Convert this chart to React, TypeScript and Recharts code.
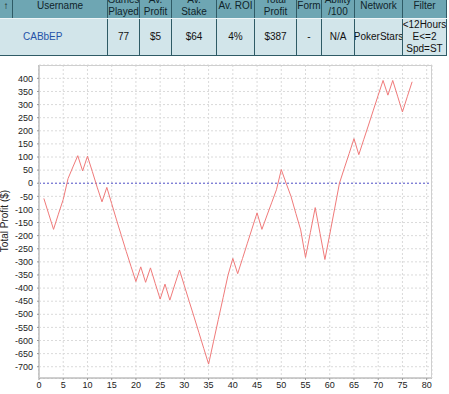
import { LineChart, Line, XAxis, YAxis, CartesianGrid, ReferenceLine } from 'recharts';

const GAMES = [
  1, 2, 3, 4, 5, 6, 7, 8, 9, 10, 11, 12, 13, 14, 15, 16, 17, 18, 19, 20,
  21, 22, 23, 24, 25, 26, 27, 28, 29, 30, 31, 32, 33, 34, 35, 36, 37, 38, 39, 40,
  41, 42, 43, 44, 45, 46, 47, 48, 49, 50, 51, 52, 53, 54, 55, 56, 57, 58, 59, 60,
  61, 62, 63, 64, 65, 66, 67, 68, 69, 70, 71, 72, 73, 74, 75, 76, 77,
];

const PROFIT = [
  -58, -117, -176, -118, -62, 18, 62, 105, 47, 103,
  45, -15, -71, -16, -78, -140, -200, -260, -318, -375,
  -319, -378, -323, -383, -442, -385, -446, -388, -331, -391,
  -451, -510, -570, -630, -690, -605, -520, -436, -351, -287,
  -345, -287, -229, -171, -113, -176, -125, -75, -25, 52,
  0, -50, -115, -178, -283, -188, -93, -192, -291, -195,
  -98, 0, 57, 113, 170, 109, 166, 222, 279, 336,
  392, 336, 392, 332, 272, 330, 387,
];

const X_TICKS = [0, 5, 10, 15, 20, 25, 30, 35, 40, 45, 50, 55, 60, 65, 70, 75, 80];
const Y_TICKS = [
  400, 350, 300, 250, 200, 150, 100, 50, 0, -50, -100, -150, -200, -250, -300, -350,
  -400, -450, -500, -550, -600, -650, -700,
];

const HEADERS = ['↑', 'Username', 'Games\nPlayed', 'Av.\nProfit', 'Av.\nStake', 'Av. ROI', 'Total\nProfit', 'Form', 'Ability\n/100', 'Network', 'Filter'];
const ROW = ['', 'CABbEP', '77', '$5', '$64', '4%', '$387', '-', 'N/A', 'PokerStars', '<12Hours\nE<=2\nSpd=ST'];
const COL_EDGES = [0, 13, 108, 140, 172, 217, 255, 297, 322, 355, 403, 447];

const data = GAMES.map((g, i) => ({ game: g, profit: PROFIT[i] }));

const font = '"Liberation Sans", Arial, sans-serif';

const Cell = ({ left, width, top, height, bg, text, color, align, border }: any) => (
  <div
    style={{
      position: 'absolute',
      left,
      top,
      width,
      height,
      background: bg,
      borderRight: border ? '1px solid #2f5b66' : 'none',
      boxSizing: 'border-box',
      display: 'flex',
      alignItems: 'center',
      justifyContent: align,
      textAlign: 'center',
      whiteSpace: 'pre',
      fontFamily: font,
      fontSize: 10,
      lineHeight: '12px',
      color,
      overflow: 'hidden',
      paddingLeft: align === 'flex-start' ? 10 : 0,
    }}
  >
    {text}
  </div>
);

export default function App() {
  return (
    <div style={{ position: 'absolute', left: 0, top: 0, width: 449, height: 394, background: '#fff', overflow: 'hidden' }}>
      <div style={{ position: 'absolute', left: 0, top: 0 }}>
        <LineChart width={449} height={394} data={data} margin={{ top: 65, right: 17, bottom: 0, left: 0 }}>
          <CartesianGrid stroke="#dadada" strokeDasharray="2 2" />
          <XAxis
            dataKey="game"
            type="number"
            domain={[0, 81.1]}
            ticks={X_TICKS}
            interval={0}
            allowDataOverflow
            height={16}
            tickSize={2}
            tickMargin={2}
            stroke="#999"
            tick={{ fontSize: 9, fill: '#222', fontFamily: font }}
          />
          <YAxis
            type="number"
            domain={[-743, 451]}
            ticks={Y_TICKS}
            interval={0}
            allowDataOverflow
            width={39}
            tickSize={2}
            tickMargin={4}
            stroke="#999"
            tick={{ fontSize: 9, fill: '#222', fontFamily: font }}
          />
          <ReferenceLine y={0} stroke="#5a5ad2" strokeDasharray="2 2" />
          <Line type="linear" dataKey="profit" stroke="#f07a7a" strokeWidth={1} dot={false} isAnimationActive={false} />
        </LineChart>
      </div>
      <div
        style={{
          position: 'absolute',
          left: 39,
          top: 65,
          width: 393,
          height: 313,
          border: '1px solid #cfcfcf',
          boxSizing: 'border-box',
          pointerEvents: 'none',
        }}
      />
      <div
        style={{
          position: 'absolute',
          left: -45,
          top: 215,
          width: 100,
          height: 12,
          lineHeight: '12px',
          textAlign: 'center',
          transform: 'rotate(-90deg)',
          fontFamily: font,
          fontSize: 10,
          color: '#222',
          whiteSpace: 'nowrap',
        }}
      >
        Total Profit ($)
      </div>
      {HEADERS.map((h, i) => (
        <Cell
          key={'h' + i}
          left={COL_EDGES[i]}
          width={COL_EDGES[i + 1] - COL_EDGES[i]}
          top={-6}
          height={24}
          bg="#6ea6b3"
          text={h}
          color={i === 0 ? '#111' : '#10242a'}
          align="center"
          border
        />
      ))}
      <div style={{ position: 'absolute', left: 0, top: 18, width: 447, height: 1, background: '#eef5f7' }} />
      {ROW.map((t, i) => (
        <Cell
          key={'r' + i}
          left={COL_EDGES[i]}
          width={COL_EDGES[i + 1] - COL_EDGES[i]}
          top={19}
          height={36}
          bg="#d2e5ea"
          text={t}
          color={i === 1 ? '#2452a8' : '#111'}
          align={i === 1 ? 'flex-start' : 'center'}
          border={i !== 0}
        />
      ))}
      <div style={{ position: 'absolute', left: 0, top: 55, width: 447, height: 1, background: '#2f5b66' }} />
    </div>
  );
}
